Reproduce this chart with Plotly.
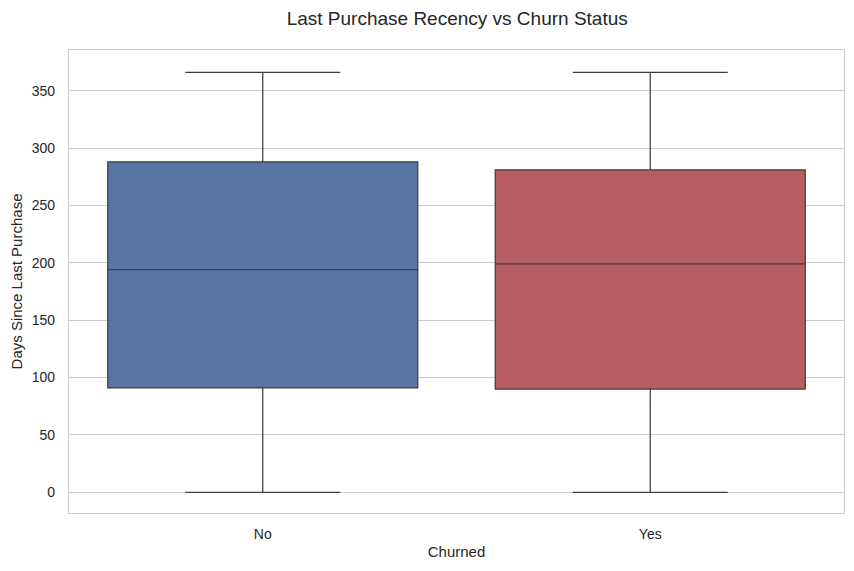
import plotly.graph_objects as go

# Box statistics (days since last purchase)
groups = ["No", "Yes"]
lower = [0, 0]
q1 = [91, 90]
median = [194, 199]
q3 = [288, 281]
upper = [366, 366]
colors = ["#5875a4", "#b55d60"]

fig = go.Figure()
for i, g in enumerate(groups):
    fig.add_trace(go.Box(
        x=[g], q1=[q1[i]], median=[median[i]], q3=[q3[i]],
        lowerfence=[lower[i]], upperfence=[upper[i]],
        name=g, fillcolor=colors[i],
        line=dict(color="#3f3f3f", width=1.25),
        width=0.8, whiskerwidth=0.5, boxpoints=False, showlegend=False,
    ))

# page puts the figure 8px in from the top-left corner, margins allow for it
font = "Arial, Liberation Sans, sans-serif"
fig.update_layout(
    width=854, height=571,
    margin=dict(l=61, r=18, t=42, b=66),
    paper_bgcolor="white", plot_bgcolor="white",
    boxmode="overlay",
    font=dict(family=font, size=14, color="#262626"),
    title=dict(text="Last Purchase Recency vs Churn Status", x=0.526, xanchor="center",
               y=1 - 10 / 571, yanchor="middle", font=dict(size=19, color="#262626")),
)
fig.update_xaxes(
    title=dict(text="Churned", standoff=5, font=dict(size=15)),
    range=[-0.5, 1.5], showgrid=False, automargin=False,
    showline=True, linecolor="#cccccc", linewidth=1.25, mirror=True,
    ticks="", ticklabelstandoff=8, tickfont=dict(size=14),
)
fig.update_yaxes(
    title=dict(text="Days Since Last Purchase", standoff=6, font=dict(size=15)),
    range=[-18, 385.4], tickvals=[0, 50, 100, 150, 200, 250, 300, 350],
    showgrid=True, gridcolor="#cccccc", gridwidth=1, zeroline=False, automargin=False,
    showline=True, linecolor="#cccccc", linewidth=1.25, mirror=True,
    ticks="", ticklabelstandoff=10, tickfont=dict(size=14),
)

fig.write_html("out.html")
